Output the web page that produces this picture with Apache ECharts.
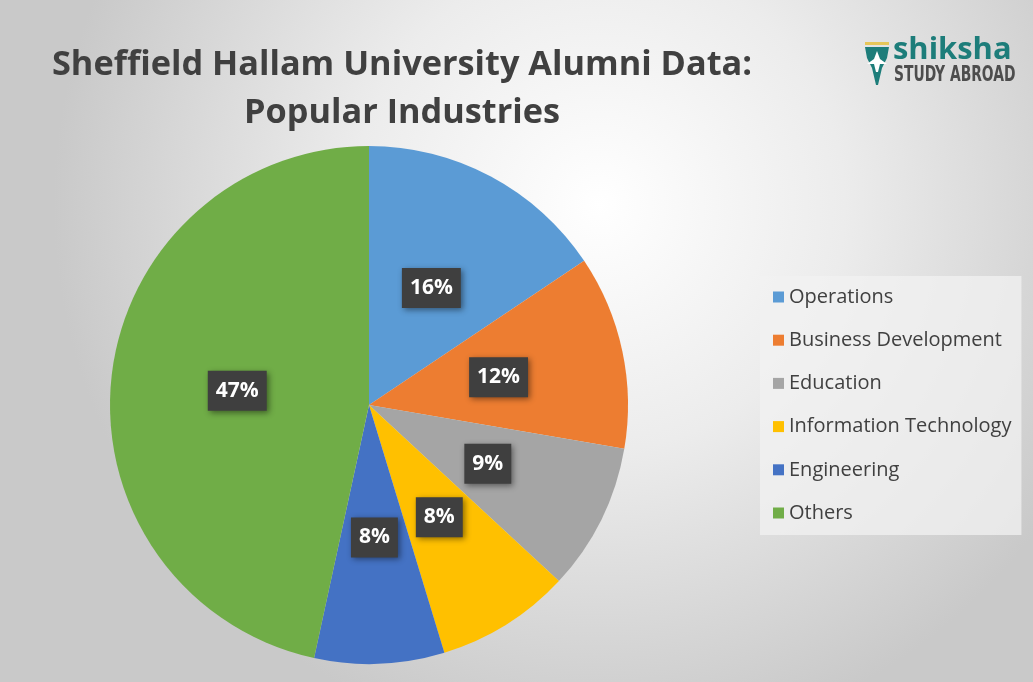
<!DOCTYPE html>
<html><head><meta charset="utf-8">
<script src="https://cdn.jsdelivr.net/npm/echarts@6/dist/echarts.min.js"></script>
<style>html,body{margin:0;padding:0;}#c{width:1033px;height:682px;}</style>
</head><body><div id="c"></div>
<script>
const categories = ['Operations','Business Development','Education','Information Technology','Engineering','Others'];
const values = [15.6, 12.1, 9.2, 8.4, 8.1, 46.6];
const colors = ['#5B9BD5','#ED7D31','#A5A5A5','#FFC000','#4472C4','#70AD47'];
const titleLines = ['Sheffield Hallam University Alumni Data:', 'Popular Industries'];

const chart = echarts.init(document.getElementById('c'));
chart.setOption({
  backgroundColor: {
    type: 'radial', x: 0.58, y: 0.3, r: 0.8,
    colorStops: [{offset: 0, color: '#ffffff'}, {offset: 0.45, color: '#ececec'}, {offset: 1, color: '#c9c9c9'}]
  },
  title: {
    text: titleLines.join('\n'), left: 397, top: 36, textAlign: 'center',
    textStyle: {fontFamily: 'Open Sans', fontWeight: 'bold', fontSize: 34.3, color: '#404040', lineHeight: 48}
  },
  legend: {
    orient: 'vertical', left: 760, top: 276,
    padding: [11, 10, 12, 13],
    backgroundColor: 'rgba(242,242,242,0.75)',
    itemWidth: 11, itemHeight: 11, itemGap: 23.2,
    icon: 'rect',
    textStyle: {fontFamily: 'Open Sans', fontSize: 20, color: '#404040', lineHeight: 20},
    data: categories
  },
  graphic: [
    {type: 'polygon', shape: {points: [[865,47],[889,47],[887,58],[882,68],[878,85],[876,85],[872,68],[867,58]]}, style: {fill: '#1d7d7a'}},
    {type: 'polygon', shape: {points: [[877,51],[880,59],[887,64],[880,64],[878,72],[876,72],[874,64],[867,64],[874,59]]}, style: {fill: '#ffffff'}},
    {type: 'rect', shape: {x: 865, y: 42, width: 24, height: 3}, style: {fill: '#e6c65a'}},
    {type: 'text', x: 893, y: 50, style: {text: 'shiksha', x: 0, y: 0, verticalAlign: 'middle', fontFamily: 'Open Sans', fontWeight: 'bold', fontSize: 30, fill: '#1d7d7a'}, scaleX: 1.03},
    {type: 'text', x: 894, y: 75, style: {text: 'STUDY ABROAD', x: 0, y: 0, verticalAlign: 'middle', fontFamily: 'DejaVu Sans Condensed', fontWeight: 'bold', fontSize: 22, fill: '#4d4d4d'}, scaleX: 0.7}
  ],
  series: [{
    type: 'pie', center: [369, 405], radius: [0, 259],
    startAngle: 90, clockwise: true,
    label: {
      position: 'inside',
      formatter: p => Math.round(p.value) + '%',
      fontFamily: 'Open Sans', fontWeight: 'bold', fontSize: 21, color: '#ffffff',
      backgroundColor: '#3f3f3f', padding: [8, 8, 8, 8], lineHeight: 24,
      shadowColor: 'rgba(0,0,0,0.45)', shadowBlur: 6, shadowOffsetX: 2, shadowOffsetY: 2
    },
    labelLine: {show: false},
    emphasis: {disabled: true},
    itemStyle: {borderWidth: 0},
    data: categories.map((c, i) => ({name: c, value: values[i], itemStyle: {color: colors[i]}}))
  }]
});
</script></body></html>
